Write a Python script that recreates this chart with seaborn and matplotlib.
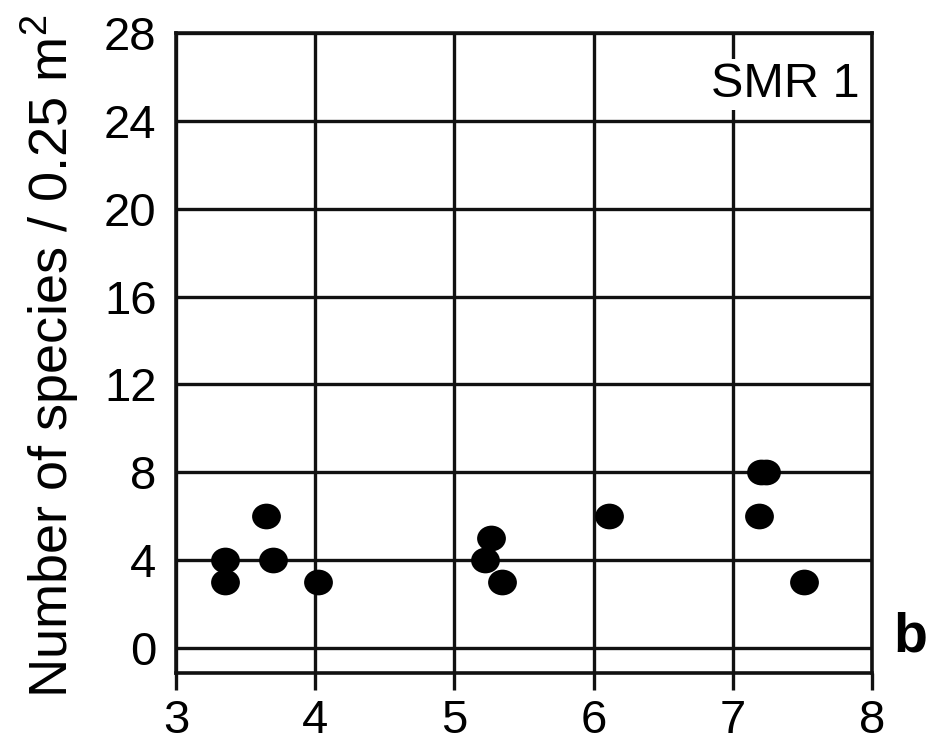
import numpy as np
import pandas as pd
import matplotlib
matplotlib.use("Agg")
import matplotlib.pyplot as plt
from matplotlib.path import Path
from matplotlib.transforms import Affine2D
import seaborn as sns

# valores (SMR 1)
b_values = [3.35, 3.35, 3.65, 3.70, 4.02, 5.22, 5.26, 5.34, 6.11, 7.20, 7.24, 7.19, 7.51]
n_species = [4, 3, 6, 4, 3, 4, 5, 3, 6, 8, 8, 6, 3]
x_ticks = [3, 4, 5, 6, 7, 8]
y_ticks = [0, 4, 8, 12, 16, 20, 24, 28]

sns.set_style("white")
plt.rcParams['font.family'] = ['Liberation Sans', 'DejaVu Sans']
plt.rcParams['mathtext.fontset'] = 'custom'
plt.rcParams['mathtext.rm'] = 'Liberation Sans'
plt.rcParams['text.color'] = 'black'
plt.rcParams['xtick.color'] = 'black'
plt.rcParams['ytick.color'] = 'black'
plt.rcParams['axes.labelcolor'] = 'black'

df = pd.DataFrame({'b': b_values, 'n': n_species})

# marcador eliptico (um pouco mais largo que alto)
ellipse = Path.unit_circle().transformed(Affine2D().scale(1.12, 1.0))

fig = plt.figure(figsize=(9.37, 7.34), dpi=100)
ax = fig.add_axes([176 / 937, 1 - 673 / 734, 696 / 937, 640 / 734])

sns.scatterplot(data=df, x='b', y='n', ax=ax, marker=ellipse, s=430,
                color='black', edgecolor='black', linewidth=0, zorder=3)

ax.set_xlim(3, 8)
ax.set_ylim(-1.14, 28)
ax.set_xticks(x_ticks)
ax.set_yticks(y_ticks)
ax.set_axisbelow(True)
ax.grid(True, color='#111111', linewidth=2.4)

for side in ['top', 'right', 'bottom', 'left']:
    ax.spines[side].set_visible(True)
    ax.spines[side].set_color('#111111')
    ax.spines[side].set_linewidth(2.6)

ax.tick_params(axis='x', direction='out', length=12, width=2.4, color='#111111',
               pad=7, labelsize=34, bottom=True)
ax.tick_params(axis='y', length=0, pad=14, labelsize=34)

ax.set_xlabel('')
ax.set_ylabel('Number of species / 0.25 m$^\\mathregular{2}$', fontsize=39)
ax.yaxis.set_label_coords(-0.136, 0.495)

ax.text(0.982, 0.955, 'SMR 1', transform=ax.transAxes, ha='right', va='top',
        fontsize=35, zorder=4,
        bbox=dict(facecolor='white', edgecolor='none', pad=2))
fig.text(893 / 937, 1 - 652 / 734, 'b', ha='left', va='baseline',
         fontsize=40, fontweight='bold')

fig.savefig('out.png', dpi=100)
